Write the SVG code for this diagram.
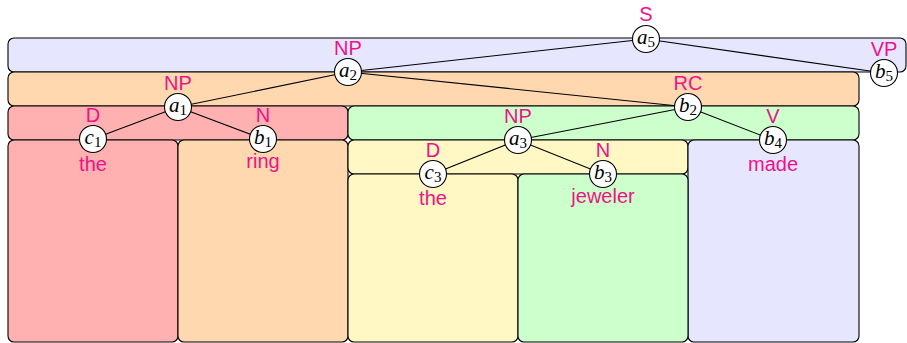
<svg xmlns="http://www.w3.org/2000/svg" width="907" height="343" viewBox="0 0 907 343">
<style>
.box{stroke:#000;stroke-width:1.1}
.blue{fill:#e6e6ff}.orange{fill:#ffd8b0}.red{fill:#ffb0b0}.green{fill:#ccffcc}.yellow{fill:#fff8c4}
.edge{stroke:#000;stroke-width:1.1;fill:none}
.node circle{fill:#fff;stroke:#000;stroke-width:1.1}
.var{font-family:"Liberation Serif",serif;font-style:italic;font-size:21px;fill:#000;text-anchor:middle}
.sub{font-family:"Liberation Serif",serif;font-style:normal;font-size:15px}
.lab{font-family:"Liberation Sans",Arial,sans-serif;font-size:20px;fill:#ee1289;text-anchor:middle}
</style>
<g id="boxes">
<rect class="box blue" x="8" y="38" width="898" height="34" rx="6"/>
<rect class="box orange" x="8" y="72" width="851" height="34" rx="6"/>
<rect class="box red" x="8" y="106" width="340" height="34" rx="6"/>
<rect class="box green" x="348" y="106" width="511" height="34" rx="6"/>
<rect class="box red" x="8" y="140" width="170" height="202" rx="6"/>
<rect class="box orange" x="178" y="140" width="170" height="202" rx="6"/>
<rect class="box yellow" x="348" y="140" width="340" height="34" rx="6"/>
<rect class="box blue" x="688" y="140" width="171" height="202" rx="6"/>
<rect class="box yellow" x="348" y="174" width="170" height="168" rx="6"/>
<rect class="box green" x="518" y="174" width="170" height="168" rx="6"/>
</g>
<g id="connectors">
<line class="edge" x1="646" y1="39" x2="348" y2="72"/>
<line class="edge" x1="646" y1="39" x2="884" y2="73"/>
<line class="edge" x1="348" y1="72" x2="178" y2="107"/>
<line class="edge" x1="348" y1="72" x2="688" y2="107"/>
<line class="edge" x1="178" y1="107" x2="93" y2="139"/>
<line class="edge" x1="178" y1="107" x2="263" y2="139"/>
<line class="edge" x1="688" y1="107" x2="518" y2="140"/>
<line class="edge" x1="688" y1="107" x2="773" y2="140"/>
<line class="edge" x1="518" y1="140" x2="433" y2="174"/>
<line class="edge" x1="518" y1="140" x2="603" y2="174"/>
</g>
<g id="a5" class="node"><text class="lab" x="646" y="21">S</text><circle cx="646" cy="39" r="13.5"/><text class="var" x="646" y="44">a<tspan class="sub" dy="3">5</tspan></text></g>
<g id="a2" class="node"><text class="lab" x="348" y="55">NP</text><circle cx="348" cy="72" r="13.5"/><text class="var" x="348" y="77">a<tspan class="sub" dy="3">2</tspan></text></g>
<g id="b5" class="node"><text class="lab" x="884" y="56">VP</text><circle cx="884" cy="73" r="13.5"/><text class="var" x="884" y="78">b<tspan class="sub" dy="3">5</tspan></text></g>
<g id="a1" class="node"><text class="lab" x="178" y="90">NP</text><circle cx="178" cy="107" r="13.5"/><text class="var" x="178" y="112">a<tspan class="sub" dy="3">1</tspan></text></g>
<g id="b2" class="node"><text class="lab" x="688" y="90">RC</text><circle cx="688" cy="107" r="13.5"/><text class="var" x="688" y="112">b<tspan class="sub" dy="3">2</tspan></text></g>
<g id="c1" class="node"><text class="lab" x="93" y="122">D</text><circle cx="93" cy="139" r="13.5"/><text class="var" x="93" y="144">c<tspan class="sub" dy="3">1</tspan></text><text class="lab" x="93" y="171">the</text></g>
<g id="b1" class="node"><text class="lab" x="263" y="122">N</text><circle cx="263" cy="139" r="13.5"/><text class="var" x="263" y="144">b<tspan class="sub" dy="3">1</tspan></text><text class="lab" x="263" y="168">ring</text></g>
<g id="a3" class="node"><text class="lab" x="518" y="123">NP</text><circle cx="518" cy="140" r="13.5"/><text class="var" x="518" y="145">a<tspan class="sub" dy="3">3</tspan></text></g>
<g id="b4" class="node"><text class="lab" x="773" y="123">V</text><circle cx="773" cy="140" r="13.5"/><text class="var" x="773" y="145">b<tspan class="sub" dy="3">4</tspan></text><text class="lab" x="773" y="171">made</text></g>
<g id="c3" class="node"><text class="lab" x="433" y="157">D</text><circle cx="433" cy="174" r="13.5"/><text class="var" x="433" y="179">c<tspan class="sub" dy="3">3</tspan></text><text class="lab" x="433" y="205">the</text></g>
<g id="b3" class="node"><text class="lab" x="603" y="157">N</text><circle cx="603" cy="174" r="13.5"/><text class="var" x="603" y="179">b<tspan class="sub" dy="3">3</tspan></text><text class="lab" x="603" y="203">jeweler</text></g>
</svg>
